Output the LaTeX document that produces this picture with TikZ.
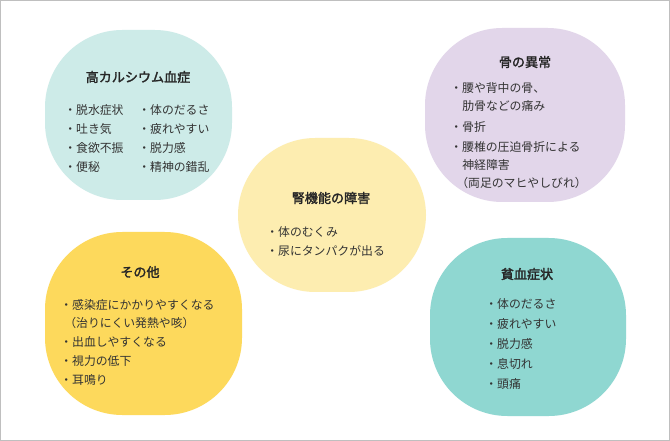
\documentclass[tikz,border=0pt]{standalone}
\usepackage{fontspec}
\setmainfont{Noto Sans CJK JP}[AutoFakeBold=2]
\definecolor{cA}{HTML}{CDEBE8}
\definecolor{cB}{HTML}{E2D6EA}
\definecolor{cC}{HTML}{FDEDB0}
\definecolor{cD}{HTML}{FDD95C}
\definecolor{cE}{HTML}{8FD7D1}
\begin{document}
\begin{tikzpicture}[x=0.75pt,y=-0.75pt,
  blob/.style={rounded corners=58pt,draw=none},
  ttl/.style={font=\fontsize{9.8}{11}\selectfont\bfseries,text=black!85,inner sep=0},
  itm/.style={font=\fontsize{8.9}{10}\selectfont,text=black!80,anchor=west,inner sep=0}]
\draw[fill=white,draw=black!25] (0.5,0.5) rectangle (669.5,440.5);
\useasboundingbox (0,0) rectangle (670,441);
% blobs
\fill[blob,fill=cA] (45,30) rectangle (232,200);
\fill[blob,fill=cB] (425,28) rectangle (625,202);
\fill[blob,fill=cC] (238,138) rectangle (426,292);
\fill[blob,fill=cD] (45,232) rectangle (242,415);
\fill[blob,fill=cE] (430,238) rectangle (626,416);
% blob 1
\node[ttl] (t1) at (138,77) {高カルシウム血症};
\node[itm] (a1) at (64,110) {・脱水症状};
\node[itm] (a2) at (64,129) {・吐き気};
\node[itm] (a3) at (64,148) {・食欲不振};
\node[itm] (a4) at (64,167) {・便秘};
\node[itm] (b1) at (138,110) {・体のだるさ};
\node[itm] (b2) at (138,129) {・疲れやすい};
\node[itm] (b3) at (138,148) {・脱力感};
\node[itm] (b4) at (138,167) {・精神の錯乱};
% blob 2
\node[ttl] (t2) at (525,62) {骨の異常};
\node[itm] (c1) at (450,88) {・腰や背中の骨、};
\node[itm] (c2) at (462,106) {肋骨などの痛み};
\node[itm] (c3) at (450,127) {・骨折};
\node[itm] (c4) at (450,147) {・腰椎の圧迫骨折による};
\node[itm] (c5) at (462,165) {神経障害};
\node[itm] (c6) at (456,183) {（両足のマヒやしびれ）};
% blob 3
\node[ttl] (t3) at (331,198) {腎機能の障害};
\node[itm] (d1) at (266,232) {・体のむくみ};
\node[itm] (d2) at (266,251) {・尿にタンパクが出る};
% blob 4
\node[ttl] (t4) at (140,272) {その他};
\node[itm] (e1) at (60,305) {・感染症にかかりやすくなる};
\node[itm] (e2) at (64,323) {（治りにくい発熱や咳）};
\node[itm] (e3) at (60,342) {・出血しやすくなる};
\node[itm] (e4) at (60,361) {・視力の低下};
\node[itm] (e5) at (60,380) {・耳鳴り};
% blob 5
\node[ttl] (t5) at (527,274) {貧血症状};
\node[itm] (f1) at (485,304) {・体のだるさ};
\node[itm] (f2) at (485,324) {・疲れやすい};
\node[itm] (f3) at (485,344) {・脱力感};
\node[itm] (f4) at (485,364) {・息切れ};
\node[itm] (f5) at (485,384) {・頭痛};
\end{tikzpicture}
\end{document}
